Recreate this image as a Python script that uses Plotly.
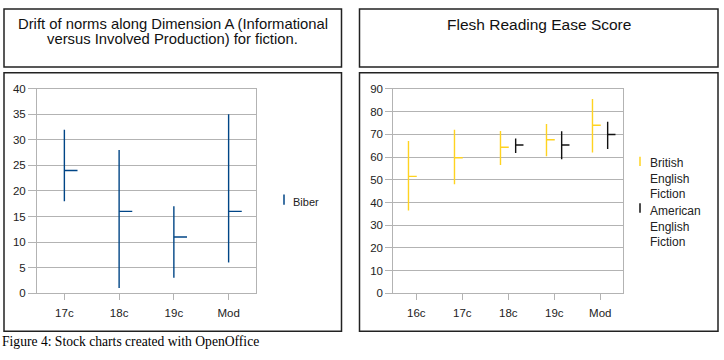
import plotly.graph_objects as go

# ---------------- data ----------------
left_title_lines = ["Drift of norms along Dimension A (Informational",
                    "versus Involved Production) for fiction."]
right_title = "Flesh Reading Ease Score"
caption = "Figure 4: Stock charts created with OpenOffice"

left_categories = ["17c", "18c", "19c", "Mod"]
biber_name = "Biber"
biber_high = [32, 28, 17, 35]
biber_low = [18, 1, 3, 6]
biber_close = [24, 16, 11, 16]

right_categories = ["16c", "17c", "18c", "19c", "Mod"]
british_name = "British<br>English<br>Fiction"
british_high = [67, 72, 71.5, 74.5, 85.5]
british_low = [36.5, 48, 56.5, 60.3, 62]
british_close = [51.5, 59.7, 64.3, 67.6, 74]
american_name = "American<br>English<br>Fiction"
american_high = [None, None, 68.2, 71.3, 75.5]
american_low = [None, None, 61.8, 59, 63.5]
american_close = [None, None, 65.3, 65.3, 69.9]

left_yticks = list(range(0, 41, 5))
right_yticks = list(range(0, 91, 10))

# ---------------- styling ----------------
W, H = 724, 360
BLUE = "#004586"
YELLOW = "#FFD320"
BLACK = "#111111"
GRID = "#b3b3b3"
BOX = "#222222"
FONT = "Liberation Sans, Arial, sans-serif"


def px(x):
    return x / W


def py(y):
    return 1 - y / H


def stock_trace(high, low, close, offset, tick, color, xaxis, yaxis, width=1.4):
    xs, ys = [], []
    for i, (h, l, c) in enumerate(zip(high, low, close)):
        if h is None:
            continue
        x0 = i + offset
        xs += [x0, x0, None, x0, x0 + tick, None]
        ys += [l, h, None, c, c, None]
    return go.Scatter(x=xs, y=ys, mode="lines", line=dict(color=color, width=width),
                      xaxis=xaxis, yaxis=yaxis, showlegend=False, hoverinfo="skip",
                      connectgaps=False)


fig = go.Figure()
fig.add_trace(stock_trace(biber_high, biber_low, biber_close, 0.0, 0.24, BLUE, "x", "y"))
fig.add_trace(stock_trace(british_high, british_low, british_close, -0.17, 0.18, YELLOW, "x2", "y2"))
fig.add_trace(stock_trace(american_high, american_low, american_close, 0.16, 0.17, BLACK, "x2", "y2"))

axis_common = dict(showline=True, mirror=True, linecolor=GRID, linewidth=1,
                   ticks="outside", tickcolor=GRID, zeroline=False,
                   tickfont=dict(family=FONT, size=11.5, color="#222"))

fig.update_layout(
    width=W, height=H,
    margin=dict(l=0, r=0, t=0, b=0),
    paper_bgcolor="white", plot_bgcolor="white",
    showlegend=False,
    xaxis=dict(domain=[px(37), px(256)], range=[-0.5, len(left_categories) - 0.5],
               tickvals=list(range(len(left_categories))), ticktext=left_categories,
               showgrid=False, ticklen=6, ticklabelstandoff=3, anchor="y", **axis_common),
    yaxis=dict(domain=[py(297), py(85.7)], range=[0, 40], tickvals=left_yticks,
               showgrid=True, gridcolor=GRID, gridwidth=1, ticklen=8, anchor="x",
               **axis_common),
    xaxis2=dict(domain=[px(393.3), px(623.3)], range=[-0.5, len(right_categories) - 0.5],
                tickvals=list(range(len(right_categories))), ticktext=right_categories,
                showgrid=False, ticklen=6, ticklabelstandoff=3, anchor="y2", **axis_common),
    yaxis2=dict(domain=[py(297.3), py(85.7)], range=[0, 90], tickvals=right_yticks,
                showgrid=True, gridcolor=GRID, gridwidth=1, ticklen=7, anchor="x2",
                **axis_common),
)

shapes = []
# title boxes and chart boxes
for (x0, y0, x1, y1) in [(4, 3, 341.5, 63), (359.5, 3, 718, 63),
                         (4, 69, 341.5, 336.5), (359.5, 69, 718, 336.5)]:
    shapes.append(dict(type="rect", xref="paper", yref="paper",
                       x0=px(x0), x1=px(x1), y0=py(y1), y1=py(y0),
                       line=dict(color=BOX, width=1.5), fillcolor="rgba(0,0,0,0)"))
# legend keys
for (x, y0, y1, col) in [(284, 195, 205.5, BLUE), (640, 156, 165.5, YELLOW), (640, 204, 214, BLACK)]:
    shapes.append(dict(type="line", xref="paper", yref="paper",
                       x0=px(x), x1=px(x), y0=py(y1), y1=py(y0),
                       line=dict(color=col, width=1.5)))
fig.update_layout(shapes=shapes)

title_font = dict(family=FONT, size=14.8, color="#111")
annotations = [
    dict(text=left_title_lines[0], x=px(172.7), y=py(19), xanchor="center", yanchor="middle",
         font=title_font),
    dict(text=left_title_lines[1], x=px(172.7), y=py(34.5), xanchor="center", yanchor="middle",
         font=title_font),
    dict(text=right_title, x=px(538.7), y=py(19), xanchor="center", yanchor="middle",
         font=dict(family=FONT, size=15.5, color="#111")),
    dict(text=biber_name, x=px(291), y=py(202.5), xanchor="left", yanchor="middle",
         font=dict(family=FONT, size=11, color="#222")),
    dict(text=british_name, x=px(647.5), y=py(153), xanchor="left", yanchor="top", align="left",
         font=dict(family=FONT, size=12, color="#222")),
    dict(text=american_name, x=px(647.5), y=py(203), xanchor="left", yanchor="top", align="left",
         font=dict(family=FONT, size=12, color="#222")),
    dict(text=caption, x=px(0), y=py(347), xanchor="left", yanchor="middle",
         font=dict(family="Liberation Serif, Times New Roman, serif", size=13.6, color="#000")),
]
for a in annotations:
    a.update(xref="paper", yref="paper", showarrow=False)
fig.update_layout(annotations=annotations)

fig.write_html("out.html",
               config={"displayModeBar": False, "staticPlot": True},
               post_script=(
                   "document.documentElement.style.margin='0';"
                   "document.documentElement.style.overflow='hidden';"
                   "document.body.style.margin='0';document.body.style.padding='0';"
                   "document.body.style.overflow='hidden';"
                   "var g=document.getElementById('{plot_id}');"
                   "g.style.position='fixed';g.style.left='0px';g.style.top='0px';"
               ))
